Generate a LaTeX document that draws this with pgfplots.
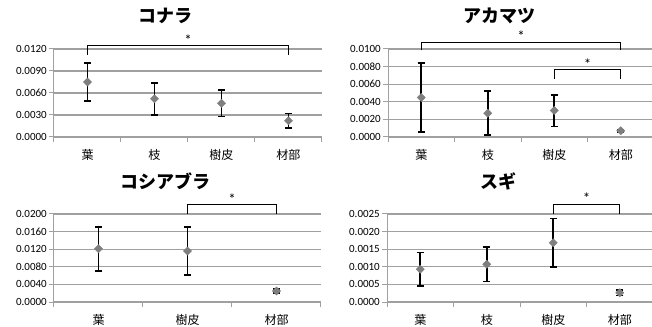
\documentclass[border=0pt]{standalone}
\usepackage{pgfplots}
\pgfplotsset{compat=1.18}
\usepackage{fontspec}
\setmainfont{Carlito}
\newfontfamily\jp{Noto Sans CJK JP}
\definecolor{mk}{HTML}{7F7F7F}
\definecolor{gr}{HTML}{A0A0A0}
\tikzset{br/.style={draw=black, line width=0.7bp},
  star/.style={anchor=south, inner sep=0.2bp, font=\fontsize{15bp}{16bp}\selectfont}}
\pgfplotsset{
  pt/.style={only marks, mark=square*, mark size=2.9bp,
      mark options={rotate=45, fill=mk, draw=mk},
      error bars/.cd, y dir=both, y explicit,
      error bar style={black, line width=1.6bp},
      error mark options={rotate=90, mark size=3.5bp, black, line width=1.6bp}},
  panel/.style={
    scale only axis, anchor=south west,
    height=88bp,
    xmin=-0.5, ymin=0,
    axis lines=left, axis line style={-, draw=gr, line width=1bp},
    clip=false,
    ymajorgrids, grid style={draw=gr, line width=1.3bp},
    tick align=outside, major tick length=5bp, minor tick length=5bp,
    y tick style={draw=gr, line width=1bp},
    x tick style={draw=gr, line width=1bp},
    major x tick style={draw=none},
    scaled y ticks=false,
    y tick label style={font=\fontsize{11bp}{13bp}\selectfont, inner sep=2bp,
      /pgf/number format/fixed, /pgf/number format/fixed zerofill,
      /pgf/number format/precision=4, /pgf/number format/assume math mode=true},
    x tick label style={font=\jp\fontsize{12bp}{14bp}\selectfont, yshift=-4bp},
    title style={at={(0.5,1)}, anchor=center, yshift=27bp, xshift=-22bp,
      font=\jp\bfseries\fontsize{18bp}{20bp}\selectfont},
  },
}
\begin{document}
\begin{tikzpicture}
% ---------- コナラ
\begin{axis}[panel, at={(54bp,190bp)}, width=268bp, xmax=3.5,
  ymax=0.012, ytick={0,0.003,0.006,0.009,0.012},
  xtick={0,1,2,3}, xticklabels={葉,枝,樹皮,材部},
  minor xtick={-0.5,0.5,1.5,2.5,3.5},
  title={コナラ}]
\addplot[pt] coordinates {
  (0,0.0075) +- (0,0.0026)
  (1,0.0052) +- (0,0.0022)
  (2,0.0046) +- (0,0.0018)
  (3,0.0022) +- (0,0.0010)
};
\draw[br] (axis cs:0,0.0112) -- (axis cs:0,0.01245) -- (axis cs:3,0.01245) -- (axis cs:3,0.0112);
\node[star] at (axis cs:1.5,0.01245) {*};
\end{axis}
% ---------- アカマツ
\begin{axis}[panel, at={(388bp,190bp)}, width=266bp, xmax=3.5,
  ymax=0.010, ytick={0,0.002,0.004,0.006,0.008,0.010},
  xtick={0,1,2,3}, xticklabels={葉,枝,樹皮,材部},
  minor xtick={-0.5,0.5,1.5,2.5,3.5},
  title={アカマツ}]
\addplot[pt] coordinates {
  (0,0.0045) +- (0,0.0039)
  (1,0.0027) +- (0,0.0025)
  (2,0.0030) +- (0,0.0018)
  (3,0.0007) +- (0,0.0001)
};
\draw[br] (axis cs:0,0.00985) -- (axis cs:0,0.0108) -- (axis cs:3,0.0108) -- (axis cs:3,0.00985);
\node[star] at (axis cs:1.5,0.0108) {*};
\draw[br] (axis cs:2,0.0066) -- (axis cs:2,0.00765) -- (axis cs:3,0.00765) -- (axis cs:3,0.0066);
\node[star] at (axis cs:2.5,0.00765) {*};
\end{axis}
% ---------- コシアブラ
\begin{axis}[panel, at={(54bp,25bp)}, width=267bp, xmax=2.5,
  ymax=0.020, ytick={0,0.004,0.008,0.012,0.016,0.020},
  xtick={0,1,2}, xticklabels={葉,樹皮,材部},
  minor xtick={-0.5,0.5,1.5,2.5},
  title={コシアブラ}]
\addplot[pt] coordinates {
  (0,0.0121) +- (0,0.0050)
  (1,0.0116) +- (0,0.0055)
  (2,0.0025) +- (0,0.0004)
};
\draw[br] (axis cs:1,0.0200) -- (axis cs:1,0.0221) -- (axis cs:2,0.0221) -- (axis cs:2,0.0200);
\node[star] at (axis cs:1.5,0.0221) {*};
\end{axis}
% ---------- スギ
\begin{axis}[panel, at={(387bp,25bp)}, width=266bp, xmax=3.5,
  ymax=0.0025, ytick={0,0.0005,0.0010,0.0015,0.0020,0.0025},
  xtick={0,1,2,3}, xticklabels={葉,枝,樹皮,材部},
  minor xtick={-0.5,0.5,1.5,2.5,3.5},
  title={スギ}]
\addplot[pt] coordinates {
  (0,0.00093) +- (0,0.00048)
  (1,0.00107) +- (0,0.00049)
  (2,0.00168) +- (0,0.00069)
  (3,0.00026) +- (0,0.00008)
};
\draw[br] (axis cs:2,0.0025) -- (axis cs:2,0.00278) -- (axis cs:3,0.00278) -- (axis cs:3,0.0025);
\node[star] at (axis cs:2.5,0.00278) {*};
\end{axis}
\pgfresetboundingbox
\useasboundingbox (0,0) rectangle (652bp,327bp);
\end{tikzpicture}
\end{document}
